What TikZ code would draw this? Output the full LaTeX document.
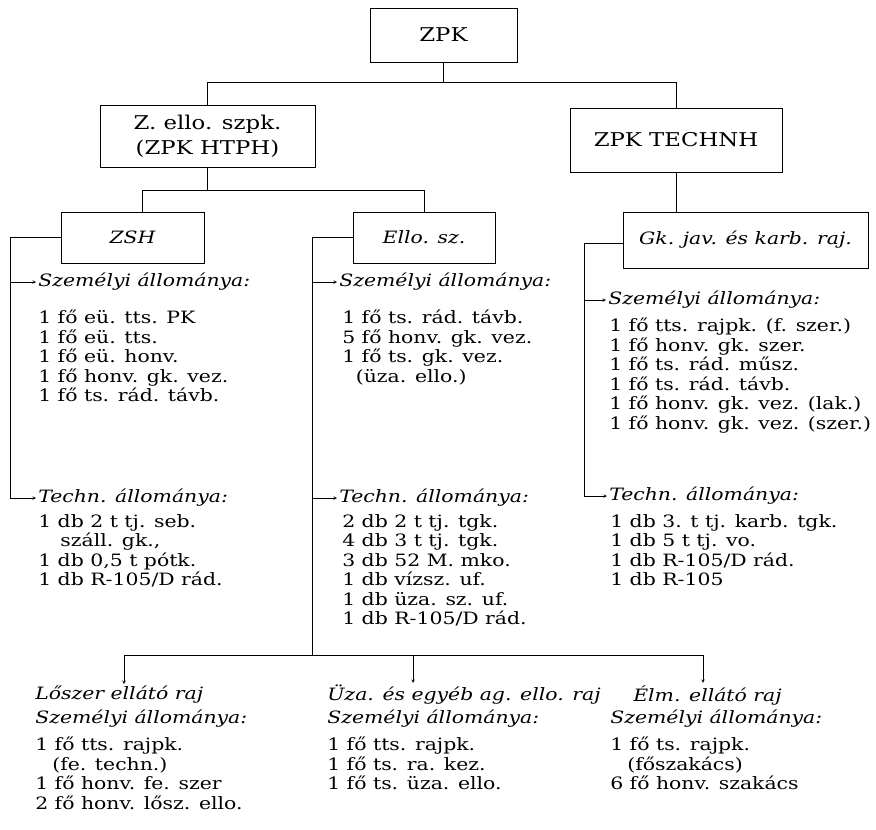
\documentclass[tikz,border=0pt]{standalone}
\usepackage{fontspec}
\setmainfont{DejaVu Serif}[FakeStretch=1.2]
\usetikzlibrary{positioning}
\tikzset{
  unit/.style={draw, line width=0.6pt, inner sep=0pt, align=center, font=\fontsize{19}{25}\selectfont},
  unitdolt/.style={unit, font=\fontsize{17}{25}\selectfont\itshape},
  fej/.style={anchor=west, inner sep=0pt, font=\fontsize{17}{19.5}\selectfont\itshape},
  lista/.style={anchor=north west, inner sep=0pt, align=left, font=\fontsize{17}{19.5}\selectfont},
  nyil/.style={-stealth, line width=0.6pt, shorten >=2pt},
}
\begin{document}
\begin{tikzpicture}[x=1pt,y=-1pt,line width=0.6pt]
\useasboundingbox (0,0) rectangle (876,830);
% egysegek
\node[unit, minimum width=147pt, minimum height=54pt] (zpk) at (443.5,35) {ZPK};
\node[unit, minimum width=215pt, minimum height=62pt] (zello) at (207.5,136) {Z. ello. szpk.\\(ZPK HTPH)};
\node[unit, minimum width=212pt, minimum height=64pt] (technh) at (676,140) {ZPK TECHNH};
\node[unitdolt, minimum width=143pt, minimum height=51pt] (zsh) at (132.5,237.5) {ZSH};
\node[unitdolt, minimum width=142pt, minimum height=51pt] (ello) at (424,237.5) {Ello. sz.};
\node[unitdolt, minimum width=245pt, minimum height=56pt] (gk) at (745.5,240) {Gk. jav. és karb. raj.};
\coordinate (h1) at (0,82);
\coordinate (h2) at (0,190);
\draw (zpk.south) -- (zpk.south |- h1);
\draw (zello.north) -- (zello.north |- h1) -- (technh.north |- h1) -- (technh.north);
\draw (zello.south) -- (zello.south |- h2);
\draw ([xshift=10pt]zsh.north) -- ([xshift=10pt]zsh.north |- h2) -- (ello.north |- h2) -- (ello.north);
\draw (technh.south) -- (technh.south |- gk.north);
% ZSH
\node[fej] (zshSzem) at (38,282) {Személyi állománya:};
\node[lista] (zshSzemL) at (38,310) {1 fő eü. tts. PK\\1 fő eü. tts.\\1 fő eü. honv.\\1 fő honv. gk. vez.\\1 fő ts. rád. távb.};
\node[fej] (zshTech) at (38,498) {Techn. állománya:};
\node[lista] (zshTechL) at (38,514) {1 db 2 t tj. seb.\\\hspace{1.3em}száll. gk.,\\1 db 0,5 t pótk.\\1 db R-105/D rád.};
\coordinate (zshL) at (10,0);
\draw (zsh.west) -| (zshL |- zshTech.west);
\draw[nyil] (zshL |- zshSzem.west) -- (zshSzem.west);
\draw[nyil] (zshL |- zshTech.west) -- (zshTech.west);
% Ello. sz.
\node[fej] (elloSzem) at (339,282) {Személyi állománya:};
\node[lista] (elloSzemL) at (342,310) {1 fő ts. rád. távb.\\5 fő honv. gk. vez.\\1 fő ts. gk. vez.\\\hspace{0.8em}(üza. ello.)};
\node[fej] (elloTech) at (339,498) {Techn. állománya:};
\node[lista] (elloTechL) at (342,514) {2 db 2 t tj. tgk.\\4 db 3 t tj. tgk.\\3 db 52 M. mko.\\1 db vízsz. uf.\\1 db üza. sz. uf.\\1 db R-105/D rád.};
\coordinate (elloL) at (312,0);
\coordinate (h3) at (0,655);
\draw (ello.west) -| (elloL |- h3);
\draw[nyil] (elloL |- elloSzem.west) -- (elloSzem.west);
\draw[nyil] (elloL |- elloTech.west) -- (elloTech.west);
% Gk. jav.
\node[fej] (gkSzem) at (608,300) {Személyi állománya:};
\node[lista] (gkSzemL) at (609,318) {1 fő tts. rajpk. (f. szer.)\\1 fő honv. gk. szer.\\1 fő ts. rád. műsz.\\1 fő ts. rád. távb.\\1 fő honv. gk. vez. (lak.)\\1 fő honv. gk. vez. (szer.)};
\node[fej] (gkTech) at (609,496) {Techn. állománya:};
\node[lista] (gkTechL) at (610,514) {1 db 3. t tj. karb. tgk.\\1 db 5 t tj. vo.\\1 db R-105/D rád.\\1 db R-105};
\coordinate (gkL) at (584,0);
\draw ([yshift=-3pt]gk.west) -| (gkL |- gkTech.west);
\draw[nyil] (gkL |- gkSzem.west) -- (gkSzem.west);
\draw[nyil] (gkL |- gkTech.west) -- (gkTech.west);
% rajok
\node[fej] (loszer) at (35,695) {Lőszer ellátó raj};
\node[fej] (loszerSzem) at (35,719) {Személyi állománya:};
\node[lista] (loszerL) at (35,737) {1 fő tts. rajpk.\\\hspace{1em}(fe. techn.)\\1 fő honv. fe. szer\\2 fő honv. lősz. ello.};
\node[fej] (uza) at (327,695) {Üza. és egyéb ag. ello. raj};
\node[fej] (uzaSzem) at (327,719) {Személyi állománya:};
\node[lista] (uzaL) at (327,737) {1 fő tts. rajpk.\\1 fő ts. ra. kez.\\1 fő ts. üza. ello.};
\node[fej] (elm) at (633,695) {Élm. ellátó raj};
\node[fej] (elmSzem) at (610,719) {Személyi állománya:};
\node[lista] (elmL) at (610,737) {1 fő ts. rajpk.\\\hspace{1em}(főszakács)\\6 fő honv. szakács};
\coordinate (a1) at (124,655);
\coordinate (a2) at (413,655);
\coordinate (a3) at (703,655);
\draw (a1) -- (a3);
\draw[nyil] (a1) -- (a1 |- loszer.north);
\draw[nyil] (a2) -- (a2 |- uza.north);
\draw[nyil] (a3) -- (a3 |- elm.north);
\end{tikzpicture}
\end{document}
